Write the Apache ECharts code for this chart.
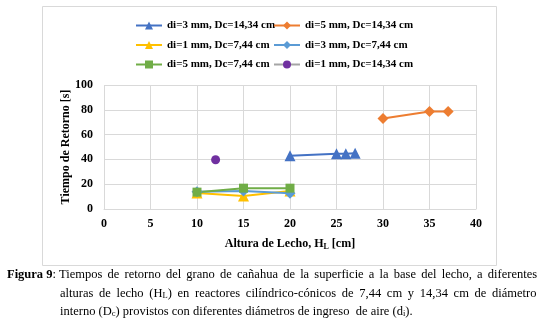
<!DOCTYPE html>
<html>
<head>
<meta charset="utf-8">
<script src="https://cdn.jsdelivr.net/npm/echarts@6/dist/echarts.min.js"></script>
<style>
  html, body { margin: 0; padding: 0; background: #fff; }
  #chart { width: 544px; height: 320px; }
</style>
</head>
<body>
<div id="chart"></div>
<script>
// datos: [altura de lecho HL (cm), tiempo de retorno (s)]
const d3_1434 = [[20, 43], [25, 44.5], [26, 44.5], [27, 45]];
const d5_1434 = [[30, 73], [35, 78.6], [37, 78.6]];
const d1_744 = [[10, 13], [15, 10.5], [20, 14.6]];
const d3_744 = [[10, 14], [15, 14.5], [20, 12.8]];
const d5_744 = [[10, 13.6], [15, 16.8], [20, 16.8]];
const d1_1434 = [[12, 39.7]];

const names = [
  'di=3 mm, Dc=14,34 cm',
  'di=5 mm, Dc=14,34 cm',
  'di=1 mm, Dc=7,44 cm',
  'di=3 mm, Dc=7,44 cm',
  'di=5 mm, Dc=7,44 cm',
  'di=1 mm, Dc=14,34 cm'
];
const xTicks = { min: 0, max: 40, interval: 5 };
const yTicks = { min: 0, max: 100, interval: 20 };

const FONT = '"Liberation Serif", "Times New Roman", serif';
const gridColor = '#D9D9D9';

const chart = echarts.init(document.getElementById('chart'), null, { renderer: 'canvas' });

function lineSeries(name, data, color, symbol, size, lineColor) {
  return {
    name: name,
    type: 'line',
    data: data,
    symbol: symbol,
    symbolSize: size,
    showSymbol: true,
    lineStyle: { color: lineColor || color, width: 2 },
    itemStyle: { color: color },
    emphasis: { disabled: true },
    animation: false
  };
}

const legendCommon = {
  orient: 'vertical',
  top: 20,
  padding: 0,
  itemGap: 8.5,
  itemWidth: 26,
  itemHeight: 10,
  textStyle: { fontFamily: FONT, fontWeight: 'bold', fontSize: 11, color: '#000' }
};

// pie de figura: espacios ensanchados para imitar el texto justificado
function justify(str) {
  return str.replace(/ /g, '{w| }');
}
const capLine1 = 'Tiempos de retorno del grano de cañahua de la superficie a la base del lecho, a diferentes';
const capLine2 = 'alturas de lecho (H{s|L}) en reactores cilíndrico-cónicos de 7,44 cm y 14,34 cm de diámetro';
const capLine3 = 'interno (D{s|c}) provistos con diferentes diámetros de ingreso  de aire (d{s|i}).';

const option = {
  backgroundColor: '#fff',
  animation: false,
  textStyle: { fontFamily: FONT },
  legend: [
    Object.assign({ left: 135, data: [names[0], names[2], names[4]] }, legendCommon),
    Object.assign({ left: 273, data: [names[1], names[3], names[5]] }, legendCommon)
  ],
  grid: { left: 104, right: 68, top: 85, bottom: 111 },
  xAxis: {
    type: 'value',
    min: xTicks.min, max: xTicks.max, interval: xTicks.interval,
    axisLine: { show: true, lineStyle: { color: gridColor } },
    axisTick: { show: false },
    splitLine: { show: true, lineStyle: { color: gridColor, width: 1 } },
    axisLabel: { color: '#000', fontFamily: FONT, fontWeight: 'bold', fontSize: 12, margin: 9 },
    name: 'Altura de Lecho, H{sub|L} [cm]',
    nameLocation: 'middle',
    nameGap: 27,
    nameTextStyle: {
      color: '#000', fontFamily: FONT, fontWeight: 'bold', fontSize: 12,
      rich: { sub: { fontFamily: FONT, fontWeight: 'bold', fontSize: 8, color: '#000', padding: [7, 0, 0, 0] } }
    }
  },
  yAxis: {
    type: 'value',
    min: yTicks.min, max: yTicks.max, interval: yTicks.interval,
    axisLine: { show: false },
    axisTick: { show: false },
    splitLine: { show: true, lineStyle: { color: gridColor, width: 1 } },
    axisLabel: { color: '#000', fontFamily: FONT, fontWeight: 'bold', fontSize: 12, margin: 11 },
    name: 'Tiempo de Retorno [s]',
    nameLocation: 'middle',
    nameGap: 32,
    nameMoveOverlap: false,
    nameTextStyle: { color: '#000', fontFamily: FONT, fontWeight: 'bold', fontSize: 12 }
  },
  series: [
    lineSeries(names[0], d3_1434, '#4472C4', 'triangle', 11),
    lineSeries(names[1], d5_1434, '#ED7D31', 'diamond', 11),
    lineSeries(names[2], d1_744, '#FFC000', 'triangle', 11),
    lineSeries(names[3], d3_744, '#5B9BD5', 'diamond', 11),
    lineSeries(names[4], d5_744, '#70AD47', 'rect', 9),
    lineSeries(names[5], d1_1434, '#7030A0', 'circle', 9, '#A5A5A5')
  ],
  graphic: [
    {
      type: 'rect', silent: true, z: -1,
      shape: { x: 42.5, y: 6.5, width: 454, height: 259 },
      style: { fill: 'none', stroke: gridColor, lineWidth: 1 }
    },
    {
      type: 'text', left: 7, top: 268, silent: true,
      style: {
        text: '{b|Figura 9}: ' + justify(capLine1),
        font: '12.5px ' + FONT, fill: '#000',
        rich: {
          b: { fontFamily: FONT, fontWeight: 'bold', fontSize: 12.5, fill: '#000' },
          w: { fontFamily: FONT, fontSize: 12.5, width: 5.2 }
        }
      }
    },
    {
      type: 'text', left: 60, top: 287, silent: true,
      style: {
        text: justify(capLine2),
        font: '12.5px ' + FONT, fill: '#000',
        rich: {
          s: { fontFamily: FONT, fontSize: 8.5, fill: '#000', padding: [5, 0, 0, 0] },
          w: { fontFamily: FONT, fontSize: 12.5, width: 5.7 }
        }
      }
    },
    {
      type: 'text', left: 60, top: 305, silent: true,
      style: {
        text: capLine3,
        font: '12.5px ' + FONT, fill: '#000',
        rich: { s: { fontFamily: FONT, fontSize: 8.5, fill: '#000', padding: [5, 0, 0, 0] } }
      }
    }
  ]
};

chart.setOption(option);
window.addEventListener('resize', () => chart.resize());
</script>
</body>
</html>
